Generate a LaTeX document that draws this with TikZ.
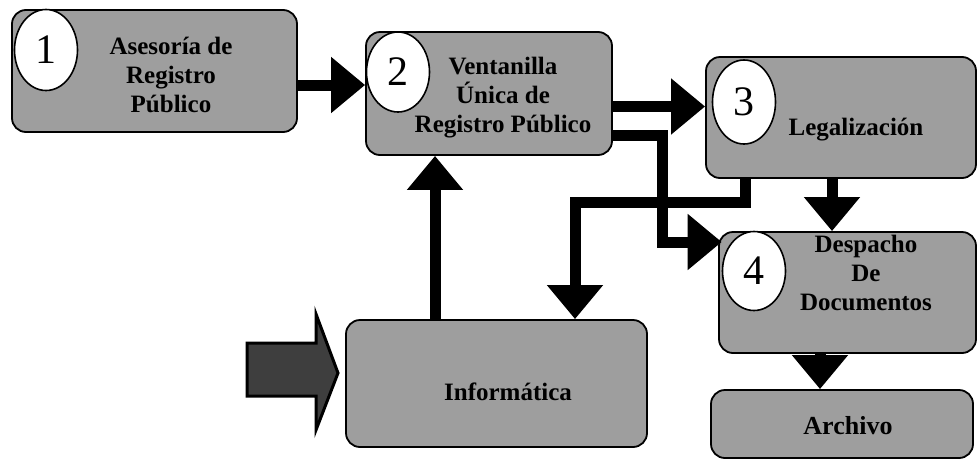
\documentclass[tikz,border=0pt]{standalone}
\usepackage{fontspec}
\setmainfont{Liberation Serif}
\usetikzlibrary{arrows.meta,shapes.geometric,calc}
\definecolor{boxgray}{RGB}{158,158,158}
\definecolor{darkfill}{RGB}{62,62,62}
\tikzset{
  box/.style={draw=black, line width=1.8pt, fill=boxgray, rounded corners=14pt, inner sep=0pt},
  numcirc/.style={ellipse, draw=black, line width=1.6pt, fill=white, inner sep=0pt, font=\fontsize{42}{44}\selectfont},
  lbl/.style={align=center, font=\bfseries\fontsize{25}{29}\selectfont, inner sep=0pt},
  flow/.style={line width=11pt, -{Triangle[width=54pt,length=34pt]}, black},
}
\begin{document}
\begin{tikzpicture}[x=1pt,y=-1pt]
\useasboundingbox[fill=white] (0,0) rectangle (979,472);

% boxes
\node[box, minimum width=285pt, minimum height=122pt] (b1) at (154.5,71) {};
\node[box, minimum width=246pt, minimum height=123pt] (b2) at (489,93.5) {};
\node[box, minimum width=270pt, minimum height=121pt] (b3) at (841,117.5) {};
\node[box, minimum width=257pt, minimum height=121pt] (b4) at (847.5,292.5) {};
\node[box, minimum width=262pt, minimum height=68pt] (b5) at (842,424) {};
\node[box, minimum width=301pt, minimum height=127pt] (b6) at (496.5,383.5) {};

% number circles
\node[numcirc, minimum width=63pt, minimum height=81pt] (c1) at (46,50) {1};
\node[numcirc, minimum width=63pt, minimum height=80pt] (c2) at (398,72) {2};
\node[numcirc, minimum width=63pt, minimum height=84pt] (c3) at (744,102) {3};
\node[numcirc, minimum width=63pt, minimum height=79pt] (c4) at (754,271) {4};

% labels
\node[lbl] (t1) at (171,75) {Asesoría de\\Registro\\Público};
\node[lbl] (t2) at (503,98) {Ventanilla\\Única de\\Registro Público};
\node[lbl] (t3) at (856,130) {Legalización};
\node[lbl] (t4) at (866,273) {Despacho\\De\\Documentos};
\node[lbl, font=\bfseries\fontsize{26}{30}\selectfont] (t5) at (848,426) {Archivo};
\node[lbl] (t6) at (508,392) {Informática};

% input block arrow
\draw[line width=3pt, fill=darkfill, line join=miter]
  (247,343) -- (316,343) -- (316,314) -- (338,373) -- (316,430) -- (316,396) -- (247,396) -- cycle;

% connectors
\coordinate (a1s) at ([yshift=-14pt]b1.east);
\draw[flow] (a1s) -- (a1s -| b2.west);

\coordinate (a2s) at ([yshift=-13pt]b2.east);
\draw[flow] (a2s) -- (a2s -| b3.west);

\coordinate (a3s) at ([yshift=-42pt]b2.east);
\coordinate (a3m) at (662,242);
\draw[flow, line join=miter] (a3s) -- (a3s -| a3m) -- (a3m) -- (a3m -| c4.west);

\coordinate (a4s) at (b3.south -| 745,0);
\coordinate (a4m) at (575,202);
\draw[flow, line join=miter] (a4s) -- (a4s |- a4m) -- (a4m) -- (a4m |- b6.north);

\coordinate (a5s) at (b6.north -| 435,0);
\draw[flow] (a5s) -- (a5s |- b2.south);

\coordinate (a6s) at (b3.south -| 832,0);
\draw[flow] (a6s) -- (a6s |- b4.north);

\coordinate (a7s) at (b4.south -| 820,0);
\draw[flow] (a7s) -- (a7s |- b5.north);
\end{tikzpicture}
\end{document}
